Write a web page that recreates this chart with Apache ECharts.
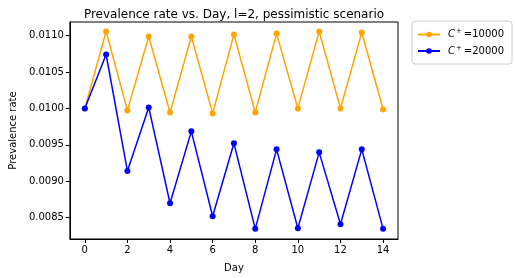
<!DOCTYPE html>
<html><head><meta charset="utf-8">
<script src="https://cdn.jsdelivr.net/npm/echarts@6/dist/echarts.min.js"></script>
<style>html,body{margin:0;padding:0;background:#fff}#c{width:515px;height:278px}</style>
</head><body><div id="c"></div>
<script>
const days = [0,1,2,3,4,5,6,7,8,9,10,11,12,13,14];
const orangeVals = [0.01000,0.011055,0.009973,0.010986,0.009945,0.010986,0.009932,0.011014,0.009945,0.011027,0.01000,0.011055,0.01000,0.011041,0.009986];
const blueVals = [0.01000,0.010740,0.009141,0.010014,0.008699,0.009685,0.008521,0.009521,0.008347,0.009438,0.008356,0.009397,0.008411,0.009438,0.008347];
const xTicks = [0,2,4,6,8,10,12,14];
const yTicks = [0.0085,0.0090,0.0095,0.0100,0.0105,0.0110];
const seriesNames = ['C+=10000','C+=20000'];
const legendLabels = {'C+=10000':'{i|C}{s|+}{n|=10000}','C+=20000':'{i|C}{s|+}{n|=20000}'};
const font = 'DejaVu Sans';
const chart = echarts.init(document.getElementById('c'), null, {renderer:'canvas'});
chart.setOption({
  animation:false,
  title:{text:'Prevalence rate vs. Day, l=2, pessimistic scenario',left:229,top:4,textAlign:'center',
    textStyle:{fontFamily:font,fontSize:12,fontWeight:'normal',color:'#000'}},
  grid:{left:63,right:117,top:22,bottom:38,show:true,borderColor:'#000',borderWidth:1},
  legend:{orient:'vertical',left:412,top:21,padding:[7,8,8,5],itemGap:5,itemWidth:22,itemHeight:7,
    borderColor:'#ccc',borderWidth:1,borderRadius:3,
    data:seriesNames,
    formatter:function(n){return legendLabels[n];},
    textStyle:{fontFamily:font,fontSize:10,color:'#000',
      rich:{i:{fontStyle:'italic',fontFamily:font,fontSize:10,padding:[0,0,0,3]},s:{fontSize:7,fontFamily:font,verticalAlign:'top',padding:[0,2,6,1]},n:{fontFamily:font,fontSize:10}}}},
  xAxis:{type:'value',min:-0.7,max:14.7,name:'Day',nameLocation:'middle',nameGap:24,
    nameTextStyle:{fontFamily:font,fontSize:10,color:'#000'},
    axisLine:{show:true,onZero:false,lineStyle:{color:'#000',width:1}},
    axisTick:{show:true,length:4,customValues:xTicks,lineStyle:{color:'#000'}},
    axisLabel:{customValues:xTicks,fontFamily:font,fontSize:10,color:'#000',margin:6},
    splitLine:{show:false}},
  yAxis:{type:'value',min:0.008208,max:0.011186,name:'Prevalence rate',nameLocation:'middle',nameGap:50,
    nameTextStyle:{fontFamily:font,fontSize:10,color:'#000'},
    axisLine:{show:true,onZero:false,lineStyle:{color:'#000',width:1}},
    axisTick:{show:true,length:4,customValues:yTicks,lineStyle:{color:'#000'}},
    axisLabel:{customValues:yTicks,fontFamily:font,fontSize:10,color:'#000',margin:6,formatter:v=>v.toFixed(4)},
    splitLine:{show:false}},
  series:[
    {name:seriesNames[0],type:'line',data:days.map((d,i)=>[d,orangeVals[i]]),color:'#FFA500',
      symbol:'circle',symbolSize:6,lineStyle:{width:1.5,color:'#FFA500'},itemStyle:{color:'#FFA500'}},
    {name:seriesNames[1],type:'line',data:days.map((d,i)=>[d,blueVals[i]]),color:'#0000FF',
      symbol:'circle',symbolSize:6,lineStyle:{width:1.5,color:'#0000FF'},itemStyle:{color:'#0000FF'}}
  ]
});
</script></body></html>
